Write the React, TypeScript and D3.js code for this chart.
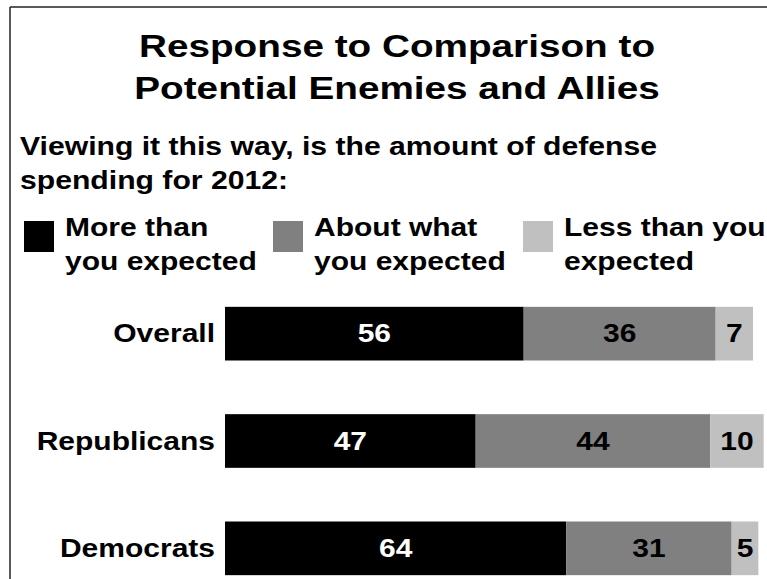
import React from "react";
import * as d3 from "d3";

const categories = ["Overall", "Republicans", "Democrats"];
const seriesNames = ["More than you expected", "About what you expected", "Less than you expected"];
const moreThan = [56, 47, 64];
const aboutWhat = [36, 44, 31];
const lessThan = [7, 10, 5];
const titleLines = ["Response to Comparison to", "Potential Enemies and Allies"];
const subtitleLines = ["Viewing it this way, is the amount of defense", "spending for 2012:"];
const legendLines = [["More than", "you expected"], ["About what", "you expected"], ["Less than you", "expected"]];

const colors = ["#000000", "#808080", "#c0c0c0"];
const labelColors = ["#ffffff", "#000000", "#000000"];
const FONT = "'Liberation Sans', Arial, sans-serif";
const SX = 1.2;

function T(props: { x: number; y: number; size: number; anchor?: string; fill?: string; sx?: number; dy?: string; children: any }) {
  const { x, y, size, anchor = "start", fill = "#000", sx = SX, dy, children } = props;
  return (
    <text transform={`translate(${x},${y}) scale(${sx},1)`} textAnchor={anchor} fontSize={size} fontWeight="bold" fill={fill} dy={dy}>
      {children}
    </text>
  );
}

export default function App() {
  const W = 767, H = 579;
  const data = categories.map((c, i) => ({ cat: c, v: [moreThan[i], aboutWhat[i], lessThan[i]] }));
  const x = d3.scaleLinear().domain([0, 99]).range([225, 753]);
  const y = d3.scaleBand().domain(categories).range([280, 602]).paddingInner(0.5).paddingOuter(0.25);
  const legendX = [24, 273, 523];

  return (
    <svg width={W} height={H} style={{ position: "absolute", left: 0, top: 0, background: "#fff" }} fontFamily={FONT}>
      <rect x={0} y={0} width={W} height={H} fill="#fff" />
      <line x1={10} y1={7} x2={W} y2={7} stroke="#222" strokeWidth={1.5} />
      <line x1={10} y1={7} x2={10} y2={H} stroke="#222" strokeWidth={1.5} />
      {titleLines.map((t, i) => (
        <T key={t} x={397} y={57 + i * 42} size={32} anchor="middle" sx={1.21}>{t}</T>
      ))}
      {subtitleLines.map((t, i) => (
        <T key={t} x={20} y={155 + i * 34} size={26} sx={1.16}>{t}</T>
      ))}
      {seriesNames.map((s, i) => (
        <g key={s}>
          <rect x={legendX[i]} y={221} width={30} height={31} fill={colors[i]} />
          {legendLines[i].map((l, j) => (
            <T key={l} x={legendX[i] + 41} y={236 + j * 34} size={25}>{l}</T>
          ))}
        </g>
      ))}
      {data.map((d) => {
        let acc = 0;
        const by = y(d.cat)!;
        const bh = y.bandwidth();
        return (
          <g key={d.cat}>
            <T x={215} y={by + bh / 2} dy="0.35em" anchor="end" size={25}>{d.cat}</T>
            {d.v.map((v, k) => {
              const x0 = x(acc);
              acc += v;
              const x1 = x(acc);
              return (
                <g key={k}>
                  <rect x={x0} y={by} width={x1 - x0} height={bh} fill={colors[k]} />
                  <T x={(x0 + x1) / 2} y={by + bh / 2} dy="0.35em" anchor="middle" size={25} fill={labelColors[k]}>{v}</T>
                </g>
              );
            })}
          </g>
        );
      })}
    </svg>
  );
}
